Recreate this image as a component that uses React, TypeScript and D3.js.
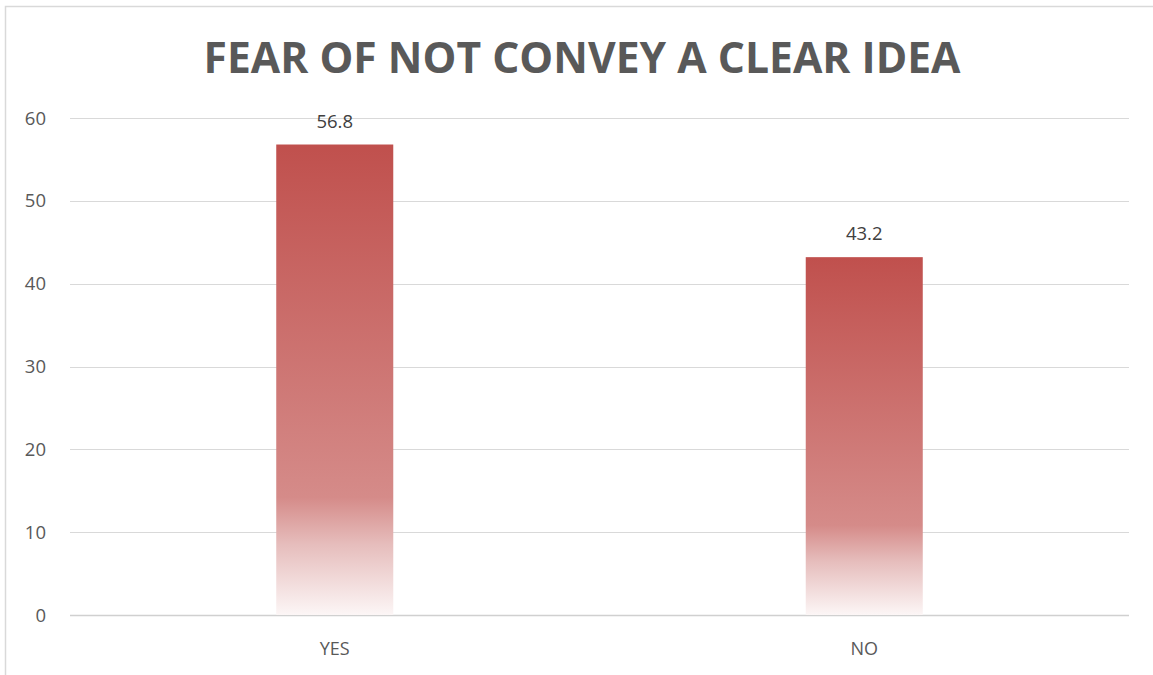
import React from "react";
import * as d3 from "d3";

const categories = ["YES", "NO"];
const values = [56.8, 43.2];
const yTicks = [0, 10, 20, 30, 40, 50, 60];
const title = "FEAR OF NOT CONVEY A CLEAR IDEA";

const W = 1153;
const H = 675;
const plot = { left: 70, right: 1129, top: 118, bottom: 615 };

export default function App() {
  const x = d3
    .scaleBand<string>()
    .domain(categories)
    .range([plot.left, plot.right])
    .paddingInner(0)
    .paddingOuter(0);
  const y = d3.scaleLinear().domain([0, 60]).range([plot.bottom, plot.top]);
  const barW = x.bandwidth() * 0.221;
  const font = "'Open Sans', sans-serif";

  return (
    <svg
      width={W}
      height={H}
      style={{ position: "absolute", left: 0, top: 0 }}
      fontFamily={font}
    >
      <defs>
        <linearGradient id="barGrad" x1="0" y1="0" x2="0" y2="1">
          <stop offset="0" stopColor="#C0504D" />
          <stop offset="0.75" stopColor="#D58B89" />
          <stop offset="0.85" stopColor="#E6BDBC" />
          <stop offset="1" stopColor="#FCF6F6" />
        </linearGradient>
      </defs>
      <rect x={0} y={0} width={W} height={H} fill="#fff" />
      <rect
        x={5.5}
        y={6.5}
        width={W + 10}
        height={H + 10}
        fill="#fff"
        stroke="#D9D9D9"
        strokeWidth={1.5}
      />
      <text
        x={582}
        y={73}
        textAnchor="middle"
        fontSize={43}
        fontWeight="bold"
        fill="#595959"
        textLength={757}
        lengthAdjust="spacingAndGlyphs"
      >
        {title}
      </text>
      {yTicks.map((t) => (
        <g key={t}>
          <line
            x1={plot.left}
            x2={plot.right}
            y1={Math.round(y(t)) + 0.5}
            y2={Math.round(y(t)) + 0.5}
            stroke={t === 0 ? "#D0D0D0" : "#D9D9D9"}
            strokeWidth={t === 0 ? 1.5 : 1}
          />
          <text
            x={46}
            y={y(t) + 6.5}
            textAnchor="end"
            fontSize={18.5}
            fill="#595959"
          >
            {t}
          </text>
        </g>
      ))}
      {categories.map((c, i) => {
        const cx = (x(c) as number) + x.bandwidth() / 2;
        const top = y(values[i]);
        return (
          <g key={c}>
            <rect
              x={cx - barW / 2}
              y={top}
              width={barW}
              height={plot.bottom - top}
              fill="url(#barGrad)"
            />
            <text
              x={cx}
              y={top - 17}
              textAnchor="middle"
              fontSize={18.5}
              fill="#404040"
            >
              {values[i]}
            </text>
            <text
              x={cx}
              y={655}
              textAnchor="middle"
              fontSize={18}
              fill="#595959"
            >
              {c}
            </text>
          </g>
        );
      })}
    </svg>
  );
}
